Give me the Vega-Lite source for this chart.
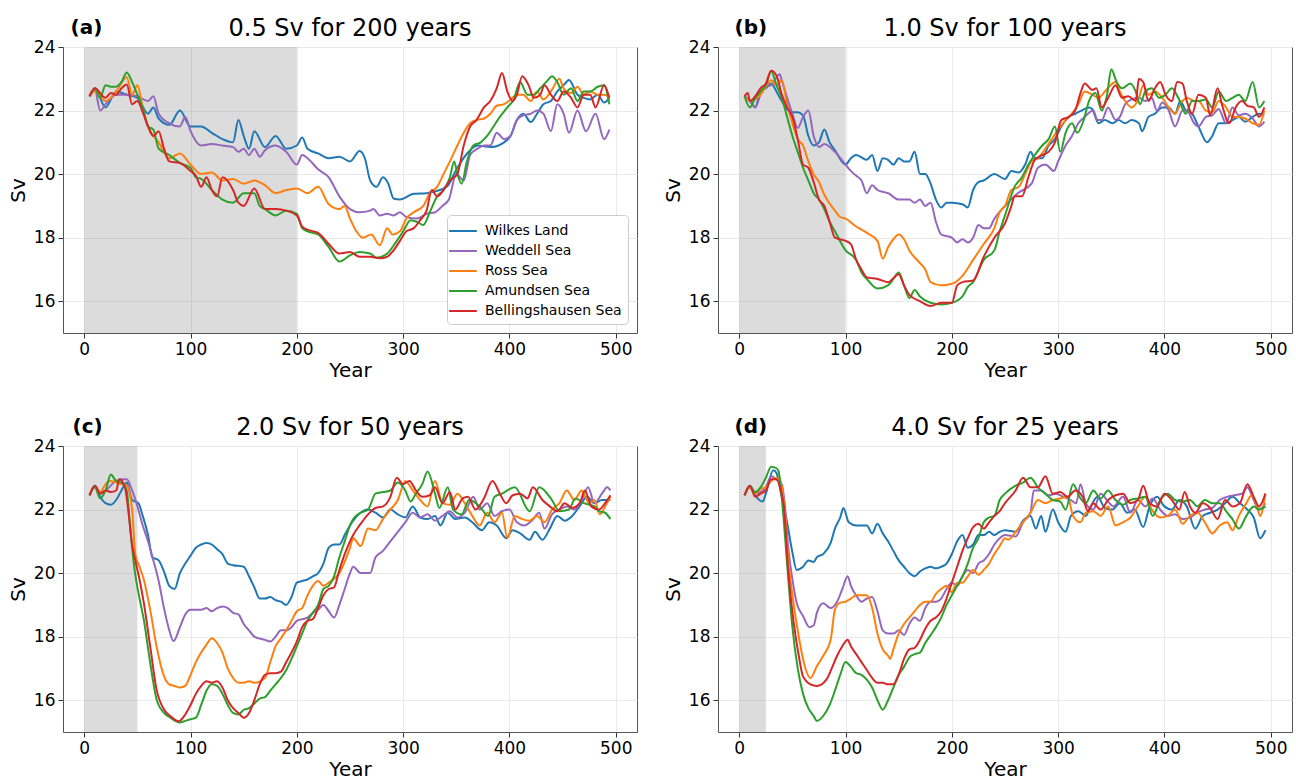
{"$schema":"https://vega.github.io/schema/vega-lite/v6.json","padding":{"left":7,"top":16,"right":2,"bottom":2},"background":"white",
"config":{"font":"DejaVu Sans","view":{"stroke":"#555","strokeWidth":1},
"axis":{"labelFont":"DejaVu Sans","titleFont":"DejaVu Sans","labelFontSize":17,"titleFontSize":20,"titleFontWeight":"normal","labelColor":"#000","titleColor":"#000","tickColor":"#333","tickSize":5,"labelPadding":3,"domain":false,"gridColor":"#e9e9e9","gridWidth":1},
"title":{"font":"DejaVu Sans","fontSize":24,"fontWeight":"normal","color":"#000","frame":"group","anchor":"middle","baseline":"alphabetic"},
"line":{"strokeWidth":2,"interpolate":"monotone"}},
"datasets":{
"a":[
{"s":"W","x":5,"y":22.45},{"s":"W","x":10,"y":22.7},{"s":"W","x":20,"y":22.1},{"s":"W","x":30,"y":22.6},{"s":"W","x":40,"y":22.5},{"s":"W","x":50,"y":22.4},{"s":"W","x":60,"y":21.9},{"s":"W","x":65,"y":22.1},{"s":"W","x":70,"y":21.75},{"s":"W","x":80,"y":21.55},{"s":"W","x":90,"y":22.0},{"s":"W","x":100,"y":21.5},{"s":"W","x":110,"y":21.5},{"s":"W","x":120,"y":21.3},{"s":"W","x":130,"y":21.1},{"s":"W","x":140,"y":21.0},{"s":"W","x":145,"y":21.7},{"s":"W","x":150,"y":21.2},{"s":"W","x":155,"y":20.8},{"s":"W","x":160,"y":21.35},{"s":"W","x":170,"y":20.85},{"s":"W","x":180,"y":21.2},{"s":"W","x":190,"y":20.8},{"s":"W","x":200,"y":20.9},{"s":"W","x":205,"y":21.15},{"s":"W","x":210,"y":20.8},{"s":"W","x":220,"y":20.65},{"s":"W","x":230,"y":20.5},{"s":"W","x":240,"y":20.55},{"s":"W","x":250,"y":20.4},{"s":"W","x":259,"y":20.73},{"s":"W","x":264,"y":20.5},{"s":"W","x":269,"y":19.8},{"s":"W","x":275,"y":19.6},{"s":"W","x":281,"y":19.9},{"s":"W","x":286,"y":19.7},{"s":"W","x":291,"y":19.23},{"s":"W","x":297,"y":19.2},{"s":"W","x":310,"y":19.38},{"s":"W","x":322,"y":19.4},{"s":"W","x":329,"y":19.45},{"s":"W","x":341,"y":19.6},{"s":"W","x":351,"y":20.2},{"s":"W","x":360,"y":20.64},{"s":"W","x":370,"y":20.9},{"s":"W","x":382,"y":20.85},{"s":"W","x":395,"y":21.0},{"s":"W","x":401,"y":21.2},{"s":"W","x":407,"y":21.7},{"s":"W","x":413,"y":21.9},{"s":"W","x":420,"y":21.64},{"s":"W","x":426,"y":21.9},{"s":"W","x":432,"y":22.2},{"s":"W","x":439,"y":22.3},{"s":"W","x":445,"y":22.6},{"s":"W","x":451,"y":22.8},{"s":"W","x":456,"y":22.96},{"s":"W","x":464,"y":22.5},{"s":"W","x":470,"y":22.4},{"s":"W","x":476,"y":22.35},{"s":"W","x":483,"y":22.5},{"s":"W","x":489,"y":22.25},{"s":"W","x":494,"y":22.4},
{"s":"D","x":5,"y":22.45},{"s":"D","x":10,"y":22.65},{"s":"D","x":15,"y":22.0},{"s":"D","x":20,"y":22.2},{"s":"D","x":30,"y":22.5},{"s":"D","x":40,"y":22.5},{"s":"D","x":50,"y":22.45},{"s":"D","x":60,"y":22.3},{"s":"D","x":65,"y":22.45},{"s":"D","x":70,"y":21.9},{"s":"D","x":80,"y":21.6},{"s":"D","x":90,"y":21.5},{"s":"D","x":95,"y":21.8},{"s":"D","x":100,"y":21.35},{"s":"D","x":110,"y":20.9},{"s":"D","x":120,"y":20.95},{"s":"D","x":130,"y":20.9},{"s":"D","x":140,"y":20.85},{"s":"D","x":145,"y":20.7},{"s":"D","x":150,"y":20.8},{"s":"D","x":155,"y":20.6},{"s":"D","x":160,"y":20.8},{"s":"D","x":165,"y":20.55},{"s":"D","x":170,"y":20.75},{"s":"D","x":180,"y":20.9},{"s":"D","x":190,"y":20.7},{"s":"D","x":200,"y":20.3},{"s":"D","x":205,"y":20.6},{"s":"D","x":210,"y":20.5},{"s":"D","x":220,"y":20.15},{"s":"D","x":230,"y":19.9},{"s":"D","x":240,"y":19.3},{"s":"D","x":250,"y":18.9},{"s":"D","x":259,"y":18.8},{"s":"D","x":269,"y":18.85},{"s":"D","x":272,"y":18.9},{"s":"D","x":278,"y":18.7},{"s":"D","x":285,"y":18.75},{"s":"D","x":291,"y":18.7},{"s":"D","x":297,"y":18.8},{"s":"D","x":303,"y":18.65},{"s":"D","x":313,"y":18.6},{"s":"D","x":322,"y":18.75},{"s":"D","x":330,"y":18.8},{"s":"D","x":337,"y":19.0},{"s":"D","x":343,"y":19.2},{"s":"D","x":350,"y":20.0},{"s":"D","x":357,"y":19.8},{"s":"D","x":363,"y":20.6},{"s":"D","x":370,"y":20.8},{"s":"D","x":376,"y":20.9},{"s":"D","x":382,"y":20.9},{"s":"D","x":388,"y":21.3},{"s":"D","x":395,"y":21.1},{"s":"D","x":401,"y":21.2},{"s":"D","x":407,"y":21.7},{"s":"D","x":413,"y":21.85},{"s":"D","x":420,"y":21.9},{"s":"D","x":426,"y":22.0},{"s":"D","x":432,"y":21.9},{"s":"D","x":439,"y":21.35},{"s":"D","x":445,"y":22.2},{"s":"D","x":451,"y":21.9},{"s":"D","x":456,"y":21.3},{"s":"D","x":464,"y":22.0},{"s":"D","x":472,"y":21.35},{"s":"D","x":481,"y":21.9},{"s":"D","x":489,"y":21.1},{"s":"D","x":494,"y":21.4},
{"s":"R","x":5,"y":22.45},{"s":"R","x":10,"y":22.6},{"s":"R","x":20,"y":22.3},{"s":"R","x":30,"y":22.6},{"s":"R","x":40,"y":23.05},{"s":"R","x":45,"y":22.5},{"s":"R","x":50,"y":22.8},{"s":"R","x":55,"y":22.1},{"s":"R","x":60,"y":21.5},{"s":"R","x":70,"y":21.0},{"s":"R","x":80,"y":20.5},{"s":"R","x":90,"y":20.65},{"s":"R","x":100,"y":20.3},{"s":"R","x":110,"y":20.0},{"s":"R","x":120,"y":20.05},{"s":"R","x":130,"y":19.8},{"s":"R","x":140,"y":19.85},{"s":"R","x":150,"y":19.7},{"s":"R","x":160,"y":19.8},{"s":"R","x":170,"y":19.65},{"s":"R","x":180,"y":19.4},{"s":"R","x":190,"y":19.5},{"s":"R","x":200,"y":19.55},{"s":"R","x":210,"y":19.4},{"s":"R","x":220,"y":19.6},{"s":"R","x":230,"y":19.05},{"s":"R","x":240,"y":18.9},{"s":"R","x":245,"y":19.0},{"s":"R","x":250,"y":18.6},{"s":"R","x":256,"y":18.2},{"s":"R","x":262,"y":18.0},{"s":"R","x":270,"y":18.1},{"s":"R","x":278,"y":17.76},{"s":"R","x":285,"y":18.3},{"s":"R","x":290,"y":18.1},{"s":"R","x":297,"y":18.2},{"s":"R","x":303,"y":18.6},{"s":"R","x":310,"y":18.8},{"s":"R","x":319,"y":19.0},{"s":"R","x":325,"y":19.4},{"s":"R","x":332,"y":19.6},{"s":"R","x":338,"y":20.0},{"s":"R","x":344,"y":20.4},{"s":"R","x":351,"y":20.9},{"s":"R","x":357,"y":21.3},{"s":"R","x":363,"y":21.6},{"s":"R","x":369,"y":21.7},{"s":"R","x":376,"y":21.75},{"s":"R","x":382,"y":21.9},{"s":"R","x":388,"y":22.15},{"s":"R","x":395,"y":22.2},{"s":"R","x":401,"y":22.35},{"s":"R","x":407,"y":22.5},{"s":"R","x":413,"y":22.5},{"s":"R","x":420,"y":22.3},{"s":"R","x":426,"y":22.6},{"s":"R","x":432,"y":22.35},{"s":"R","x":439,"y":22.6},{"s":"R","x":447,"y":23.0},{"s":"R","x":451,"y":22.7},{"s":"R","x":458,"y":22.55},{"s":"R","x":464,"y":22.75},{"s":"R","x":470,"y":22.5},{"s":"R","x":476,"y":22.6},{"s":"R","x":483,"y":22.5},{"s":"R","x":489,"y":22.5},{"s":"R","x":494,"y":22.45},
{"s":"A","x":5,"y":22.45},{"s":"A","x":10,"y":22.7},{"s":"A","x":15,"y":22.4},{"s":"A","x":20,"y":22.8},{"s":"A","x":25,"y":22.75},{"s":"A","x":30,"y":22.75},{"s":"A","x":35,"y":22.9},{"s":"A","x":40,"y":23.2},{"s":"A","x":45,"y":22.9},{"s":"A","x":50,"y":22.5},{"s":"A","x":55,"y":22.1},{"s":"A","x":60,"y":21.5},{"s":"A","x":65,"y":21.4},{"s":"A","x":70,"y":20.8},{"s":"A","x":80,"y":20.6},{"s":"A","x":90,"y":20.35},{"s":"A","x":100,"y":20.2},{"s":"A","x":105,"y":19.9},{"s":"A","x":110,"y":19.85},{"s":"A","x":120,"y":19.5},{"s":"A","x":130,"y":19.2},{"s":"A","x":140,"y":19.1},{"s":"A","x":150,"y":19.4},{"s":"A","x":160,"y":19.4},{"s":"A","x":165,"y":19.0},{"s":"A","x":170,"y":18.9},{"s":"A","x":180,"y":18.7},{"s":"A","x":190,"y":18.85},{"s":"A","x":200,"y":18.75},{"s":"A","x":205,"y":18.3},{"s":"A","x":210,"y":18.2},{"s":"A","x":220,"y":18.1},{"s":"A","x":230,"y":17.7},{"s":"A","x":240,"y":17.25},{"s":"A","x":250,"y":17.44},{"s":"A","x":259,"y":17.55},{"s":"A","x":269,"y":17.5},{"s":"A","x":275,"y":17.37},{"s":"A","x":285,"y":17.5},{"s":"A","x":294,"y":17.9},{"s":"A","x":300,"y":18.2},{"s":"A","x":307,"y":18.55},{"s":"A","x":313,"y":18.5},{"s":"A","x":319,"y":18.4},{"s":"A","x":325,"y":18.8},{"s":"A","x":332,"y":19.3},{"s":"A","x":338,"y":19.5},{"s":"A","x":344,"y":19.9},{"s":"A","x":348,"y":20.4},{"s":"A","x":351,"y":20.0},{"s":"A","x":355,"y":19.7},{"s":"A","x":360,"y":20.4},{"s":"A","x":366,"y":20.9},{"s":"A","x":373,"y":21.0},{"s":"A","x":379,"y":21.2},{"s":"A","x":385,"y":21.5},{"s":"A","x":391,"y":21.8},{"s":"A","x":398,"y":22.1},{"s":"A","x":404,"y":22.35},{"s":"A","x":410,"y":22.9},{"s":"A","x":417,"y":22.5},{"s":"A","x":423,"y":22.5},{"s":"A","x":429,"y":22.7},{"s":"A","x":436,"y":22.95},{"s":"A","x":440,"y":23.08},{"s":"A","x":445,"y":22.9},{"s":"A","x":451,"y":22.5},{"s":"A","x":458,"y":22.7},{"s":"A","x":464,"y":22.3},{"s":"A","x":470,"y":22.6},{"s":"A","x":476,"y":22.6},{"s":"A","x":483,"y":22.75},{"s":"A","x":489,"y":22.8},{"s":"A","x":494,"y":22.2},
{"s":"B","x":5,"y":22.45},{"s":"B","x":10,"y":22.7},{"s":"B","x":20,"y":22.4},{"s":"B","x":25,"y":22.55},{"s":"B","x":30,"y":22.5},{"s":"B","x":35,"y":22.7},{"s":"B","x":40,"y":22.82},{"s":"B","x":45,"y":22.2},{"s":"B","x":50,"y":22.3},{"s":"B","x":55,"y":21.95},{"s":"B","x":60,"y":21.5},{"s":"B","x":65,"y":21.2},{"s":"B","x":70,"y":21.35},{"s":"B","x":75,"y":20.8},{"s":"B","x":80,"y":20.4},{"s":"B","x":90,"y":20.35},{"s":"B","x":100,"y":20.1},{"s":"B","x":105,"y":19.95},{"s":"B","x":110,"y":19.6},{"s":"B","x":115,"y":19.9},{"s":"B","x":120,"y":19.5},{"s":"B","x":125,"y":19.3},{"s":"B","x":130,"y":19.9},{"s":"B","x":140,"y":19.5},{"s":"B","x":145,"y":19.1},{"s":"B","x":150,"y":19.0},{"s":"B","x":160,"y":19.55},{"s":"B","x":170,"y":18.9},{"s":"B","x":180,"y":18.9},{"s":"B","x":190,"y":18.85},{"s":"B","x":200,"y":18.7},{"s":"B","x":205,"y":18.35},{"s":"B","x":210,"y":18.25},{"s":"B","x":220,"y":18.15},{"s":"B","x":230,"y":17.8},{"s":"B","x":240,"y":17.5},{"s":"B","x":250,"y":17.55},{"s":"B","x":259,"y":17.4},{"s":"B","x":269,"y":17.4},{"s":"B","x":278,"y":17.35},{"s":"B","x":285,"y":17.4},{"s":"B","x":291,"y":17.6},{"s":"B","x":297,"y":17.9},{"s":"B","x":303,"y":18.2},{"s":"B","x":310,"y":18.3},{"s":"B","x":316,"y":18.55},{"s":"B","x":322,"y":18.85},{"s":"B","x":327,"y":19.5},{"s":"B","x":332,"y":19.3},{"s":"B","x":338,"y":19.5},{"s":"B","x":344,"y":19.8},{"s":"B","x":351,"y":20.0},{"s":"B","x":357,"y":20.9},{"s":"B","x":363,"y":21.5},{"s":"B","x":369,"y":21.7},{"s":"B","x":376,"y":22.1},{"s":"B","x":382,"y":22.3},{"s":"B","x":388,"y":22.7},{"s":"B","x":393,"y":23.18},{"s":"B","x":398,"y":22.6},{"s":"B","x":403,"y":22.3},{"s":"B","x":407,"y":22.5},{"s":"B","x":412,"y":23.08},{"s":"B","x":418,"y":22.8},{"s":"B","x":423,"y":22.4},{"s":"B","x":429,"y":22.5},{"s":"B","x":433,"y":22.8},{"s":"B","x":439,"y":22.5},{"s":"B","x":445,"y":22.3},{"s":"B","x":451,"y":22.6},{"s":"B","x":458,"y":22.4},{"s":"B","x":464,"y":22.1},{"s":"B","x":470,"y":22.5},{"s":"B","x":476,"y":22.5},{"s":"B","x":481,"y":22.1},{"s":"B","x":489,"y":22.8},{"s":"B","x":494,"y":22.4}],
"b":[
{"s":"W","x":5,"y":22.45},{"s":"W","x":10,"y":22.3},{"s":"W","x":15,"y":22.1},{"s":"W","x":20,"y":22.6},{"s":"W","x":25,"y":22.7},{"s":"W","x":30,"y":22.85},{"s":"W","x":35,"y":22.6},{"s":"W","x":40,"y":22.3},{"s":"W","x":45,"y":22.05},{"s":"W","x":50,"y":21.95},{"s":"W","x":55,"y":21.95},{"s":"W","x":60,"y":21.85},{"s":"W","x":65,"y":21.2},{"s":"W","x":70,"y":20.9},{"s":"W","x":75,"y":21.0},{"s":"W","x":80,"y":21.4},{"s":"W","x":85,"y":21.0},{"s":"W","x":90,"y":20.75},{"s":"W","x":100,"y":20.3},{"s":"W","x":105,"y":20.5},{"s":"W","x":110,"y":20.6},{"s":"W","x":120,"y":20.45},{"s":"W","x":125,"y":20.6},{"s":"W","x":130,"y":20.1},{"s":"W","x":135,"y":20.5},{"s":"W","x":140,"y":20.45},{"s":"W","x":145,"y":20.3},{"s":"W","x":150,"y":20.5},{"s":"W","x":155,"y":20.4},{"s":"W","x":160,"y":20.4},{"s":"W","x":165,"y":20.7},{"s":"W","x":170,"y":20.0},{"s":"W","x":175,"y":20.0},{"s":"W","x":180,"y":19.7},{"s":"W","x":185,"y":19.2},{"s":"W","x":190,"y":18.95},{"s":"W","x":195,"y":19.1},{"s":"W","x":200,"y":19.1},{"s":"W","x":210,"y":19.05},{"s":"W","x":215,"y":18.95},{"s":"W","x":220,"y":19.5},{"s":"W","x":225,"y":19.75},{"s":"W","x":230,"y":19.8},{"s":"W","x":240,"y":20.0},{"s":"W","x":250,"y":19.85},{"s":"W","x":256,"y":20.1},{"s":"W","x":263,"y":20.05},{"s":"W","x":269,"y":20.3},{"s":"W","x":274,"y":20.7},{"s":"W","x":278,"y":20.5},{"s":"W","x":285,"y":20.5},{"s":"W","x":291,"y":20.9},{"s":"W","x":297,"y":21.1},{"s":"W","x":303,"y":21.5},{"s":"W","x":310,"y":21.8},{"s":"W","x":316,"y":21.9},{"s":"W","x":322,"y":22.0},{"s":"W","x":329,"y":22.1},{"s":"W","x":332,"y":22.05},{"s":"W","x":338,"y":21.6},{"s":"W","x":344,"y":21.7},{"s":"W","x":351,"y":21.6},{"s":"W","x":357,"y":21.7},{"s":"W","x":363,"y":21.6},{"s":"W","x":369,"y":21.7},{"s":"W","x":376,"y":21.6},{"s":"W","x":379,"y":21.35},{"s":"W","x":385,"y":21.8},{"s":"W","x":391,"y":21.9},{"s":"W","x":398,"y":22.1},{"s":"W","x":404,"y":22.1},{"s":"W","x":410,"y":21.9},{"s":"W","x":415,"y":22.3},{"s":"W","x":420,"y":22.0},{"s":"W","x":426,"y":21.9},{"s":"W","x":432,"y":21.5},{"s":"W","x":440,"y":21.0},{"s":"W","x":445,"y":21.2},{"s":"W","x":451,"y":21.6},{"s":"W","x":458,"y":21.6},{"s":"W","x":464,"y":21.7},{"s":"W","x":470,"y":21.8},{"s":"W","x":476,"y":21.65},{"s":"W","x":483,"y":21.8},{"s":"W","x":489,"y":21.9},{"s":"W","x":494,"y":21.85},
{"s":"D","x":5,"y":22.45},{"s":"D","x":10,"y":22.3},{"s":"D","x":15,"y":22.1},{"s":"D","x":20,"y":22.5},{"s":"D","x":25,"y":22.75},{"s":"D","x":30,"y":22.8},{"s":"D","x":38,"y":23.14},{"s":"D","x":40,"y":22.95},{"s":"D","x":45,"y":22.4},{"s":"D","x":50,"y":21.9},{"s":"D","x":55,"y":21.45},{"s":"D","x":60,"y":21.8},{"s":"D","x":65,"y":22.0},{"s":"D","x":70,"y":21.2},{"s":"D","x":75,"y":20.85},{"s":"D","x":80,"y":20.95},{"s":"D","x":90,"y":20.7},{"s":"D","x":100,"y":20.3},{"s":"D","x":105,"y":20.1},{"s":"D","x":110,"y":19.95},{"s":"D","x":115,"y":19.8},{"s":"D","x":120,"y":19.4},{"s":"D","x":125,"y":19.65},{"s":"D","x":130,"y":19.5},{"s":"D","x":140,"y":19.4},{"s":"D","x":150,"y":19.2},{"s":"D","x":160,"y":19.2},{"s":"D","x":165,"y":19.1},{"s":"D","x":170,"y":19.2},{"s":"D","x":175,"y":19.0},{"s":"D","x":180,"y":19.1},{"s":"D","x":185,"y":18.5},{"s":"D","x":190,"y":18.1},{"s":"D","x":195,"y":18.05},{"s":"D","x":200,"y":18.0},{"s":"D","x":205,"y":17.85},{"s":"D","x":210,"y":17.95},{"s":"D","x":215,"y":17.85},{"s":"D","x":220,"y":18.0},{"s":"D","x":225,"y":18.4},{"s":"D","x":230,"y":18.3},{"s":"D","x":235,"y":18.3},{"s":"D","x":240,"y":18.6},{"s":"D","x":250,"y":19.0},{"s":"D","x":262,"y":19.4},{"s":"D","x":275,"y":19.7},{"s":"D","x":281,"y":20.2},{"s":"D","x":288,"y":20.3},{"s":"D","x":296,"y":20.1},{"s":"D","x":300,"y":20.4},{"s":"D","x":307,"y":20.9},{"s":"D","x":313,"y":21.2},{"s":"D","x":319,"y":21.6},{"s":"D","x":325,"y":21.8},{"s":"D","x":333,"y":22.0},{"s":"D","x":337,"y":21.7},{"s":"D","x":341,"y":21.7},{"s":"D","x":347,"y":22.1},{"s":"D","x":354,"y":21.7},{"s":"D","x":358,"y":21.8},{"s":"D","x":363,"y":22.2},{"s":"D","x":369,"y":22.35},{"s":"D","x":376,"y":22.4},{"s":"D","x":382,"y":22.3},{"s":"D","x":388,"y":22.4},{"s":"D","x":393,"y":22.0},{"s":"D","x":398,"y":22.25},{"s":"D","x":404,"y":22.0},{"s":"D","x":410,"y":21.5},{"s":"D","x":417,"y":22.0},{"s":"D","x":421,"y":22.0},{"s":"D","x":428,"y":21.6},{"s":"D","x":432,"y":21.5},{"s":"D","x":439,"y":21.8},{"s":"D","x":445,"y":21.85},{"s":"D","x":451,"y":22.05},{"s":"D","x":458,"y":21.6},{"s":"D","x":464,"y":22.1},{"s":"D","x":470,"y":21.85},{"s":"D","x":476,"y":21.9},{"s":"D","x":483,"y":21.75},{"s":"D","x":489,"y":21.5},{"s":"D","x":494,"y":21.65},
{"s":"R","x":5,"y":22.45},{"s":"R","x":10,"y":22.3},{"s":"R","x":20,"y":22.5},{"s":"R","x":25,"y":22.75},{"s":"R","x":30,"y":22.95},{"s":"R","x":35,"y":22.8},{"s":"R","x":40,"y":22.95},{"s":"R","x":45,"y":22.2},{"s":"R","x":50,"y":21.6},{"s":"R","x":55,"y":21.1},{"s":"R","x":60,"y":20.9},{"s":"R","x":65,"y":20.4},{"s":"R","x":70,"y":20.0},{"s":"R","x":75,"y":19.75},{"s":"R","x":80,"y":19.35},{"s":"R","x":90,"y":18.85},{"s":"R","x":95,"y":18.65},{"s":"R","x":100,"y":18.6},{"s":"R","x":110,"y":18.35},{"s":"R","x":120,"y":18.15},{"s":"R","x":130,"y":17.9},{"s":"R","x":135,"y":17.34},{"s":"R","x":140,"y":17.7},{"s":"R","x":145,"y":17.95},{"s":"R","x":150,"y":18.1},{"s":"R","x":155,"y":17.95},{"s":"R","x":160,"y":17.6},{"s":"R","x":170,"y":17.2},{"s":"R","x":175,"y":17.0},{"s":"R","x":180,"y":16.6},{"s":"R","x":190,"y":16.5},{"s":"R","x":200,"y":16.55},{"s":"R","x":210,"y":16.8},{"s":"R","x":220,"y":17.3},{"s":"R","x":230,"y":17.8},{"s":"R","x":240,"y":18.3},{"s":"R","x":245,"y":18.8},{"s":"R","x":250,"y":19.0},{"s":"R","x":256,"y":19.5},{"s":"R","x":263,"y":19.6},{"s":"R","x":269,"y":20.0},{"s":"R","x":275,"y":20.4},{"s":"R","x":281,"y":20.5},{"s":"R","x":288,"y":20.8},{"s":"R","x":294,"y":21.1},{"s":"R","x":300,"y":21.4},{"s":"R","x":307,"y":21.7},{"s":"R","x":313,"y":21.9},{"s":"R","x":319,"y":22.2},{"s":"R","x":325,"y":22.6},{"s":"R","x":332,"y":22.5},{"s":"R","x":338,"y":22.4},{"s":"R","x":344,"y":22.6},{"s":"R","x":351,"y":22.85},{"s":"R","x":354,"y":22.9},{"s":"R","x":358,"y":22.6},{"s":"R","x":363,"y":22.3},{"s":"R","x":369,"y":22.1},{"s":"R","x":376,"y":22.4},{"s":"R","x":380,"y":22.8},{"s":"R","x":385,"y":22.5},{"s":"R","x":391,"y":22.6},{"s":"R","x":398,"y":22.4},{"s":"R","x":404,"y":22.1},{"s":"R","x":410,"y":21.9},{"s":"R","x":415,"y":22.2},{"s":"R","x":421,"y":22.4},{"s":"R","x":428,"y":22.3},{"s":"R","x":432,"y":22.3},{"s":"R","x":439,"y":22.0},{"s":"R","x":445,"y":21.95},{"s":"R","x":451,"y":22.3},{"s":"R","x":458,"y":22.1},{"s":"R","x":464,"y":21.8},{"s":"R","x":470,"y":21.8},{"s":"R","x":476,"y":21.75},{"s":"R","x":483,"y":21.6},{"s":"R","x":489,"y":21.55},{"s":"R","x":494,"y":22.0},
{"s":"A","x":5,"y":22.45},{"s":"A","x":10,"y":22.1},{"s":"A","x":15,"y":22.4},{"s":"A","x":20,"y":22.6},{"s":"A","x":25,"y":22.8},{"s":"A","x":30,"y":23.24},{"s":"A","x":35,"y":22.8},{"s":"A","x":40,"y":22.4},{"s":"A","x":45,"y":21.8},{"s":"A","x":50,"y":21.2},{"s":"A","x":55,"y":20.7},{"s":"A","x":60,"y":20.2},{"s":"A","x":65,"y":19.8},{"s":"A","x":70,"y":19.4},{"s":"A","x":75,"y":19.2},{"s":"A","x":80,"y":18.9},{"s":"A","x":85,"y":18.5},{"s":"A","x":90,"y":18.2},{"s":"A","x":100,"y":17.6},{"s":"A","x":110,"y":17.3},{"s":"A","x":115,"y":16.9},{"s":"A","x":120,"y":16.7},{"s":"A","x":130,"y":16.4},{"s":"A","x":140,"y":16.5},{"s":"A","x":145,"y":16.7},{"s":"A","x":150,"y":16.9},{"s":"A","x":155,"y":16.5},{"s":"A","x":160,"y":16.1},{"s":"A","x":165,"y":16.35},{"s":"A","x":170,"y":16.15},{"s":"A","x":180,"y":15.95},{"s":"A","x":190,"y":15.9},{"s":"A","x":200,"y":15.95},{"s":"A","x":210,"y":16.15},{"s":"A","x":215,"y":16.45},{"s":"A","x":220,"y":16.6},{"s":"A","x":230,"y":17.3},{"s":"A","x":240,"y":17.6},{"s":"A","x":245,"y":18.2},{"s":"A","x":250,"y":18.7},{"s":"A","x":259,"y":19.6},{"s":"A","x":266,"y":19.9},{"s":"A","x":272,"y":20.3},{"s":"A","x":278,"y":20.6},{"s":"A","x":285,"y":20.9},{"s":"A","x":291,"y":21.1},{"s":"A","x":297,"y":21.5},{"s":"A","x":302,"y":20.7},{"s":"A","x":307,"y":21.3},{"s":"A","x":313,"y":21.6},{"s":"A","x":318,"y":21.3},{"s":"A","x":324,"y":21.7},{"s":"A","x":329,"y":22.3},{"s":"A","x":335,"y":22.55},{"s":"A","x":341,"y":22.0},{"s":"A","x":346,"y":22.5},{"s":"A","x":350,"y":23.3},{"s":"A","x":355,"y":22.9},{"s":"A","x":360,"y":22.7},{"s":"A","x":368,"y":22.85},{"s":"A","x":373,"y":22.6},{"s":"A","x":377,"y":22.2},{"s":"A","x":382,"y":22.6},{"s":"A","x":388,"y":22.7},{"s":"A","x":395,"y":22.4},{"s":"A","x":401,"y":22.5},{"s":"A","x":407,"y":22.7},{"s":"A","x":413,"y":22.4},{"s":"A","x":420,"y":21.9},{"s":"A","x":426,"y":22.3},{"s":"A","x":432,"y":22.3},{"s":"A","x":439,"y":22.35},{"s":"A","x":445,"y":22.1},{"s":"A","x":451,"y":22.6},{"s":"A","x":458,"y":22.3},{"s":"A","x":464,"y":22.4},{"s":"A","x":470,"y":22.5},{"s":"A","x":476,"y":22.3},{"s":"A","x":483,"y":22.9},{"s":"A","x":489,"y":22.1},{"s":"A","x":494,"y":22.3},
{"s":"B","x":5,"y":22.45},{"s":"B","x":8,"y":22.55},{"s":"B","x":10,"y":22.3},{"s":"B","x":15,"y":22.45},{"s":"B","x":20,"y":22.7},{"s":"B","x":25,"y":22.85},{"s":"B","x":30,"y":23.25},{"s":"B","x":35,"y":23.1},{"s":"B","x":40,"y":22.5},{"s":"B","x":45,"y":22.1},{"s":"B","x":50,"y":21.8},{"s":"B","x":55,"y":21.1},{"s":"B","x":60,"y":20.3},{"s":"B","x":65,"y":20.2},{"s":"B","x":70,"y":19.75},{"s":"B","x":75,"y":19.2},{"s":"B","x":80,"y":19.0},{"s":"B","x":85,"y":18.5},{"s":"B","x":90,"y":18.0},{"s":"B","x":100,"y":17.9},{"s":"B","x":105,"y":17.8},{"s":"B","x":110,"y":17.3},{"s":"B","x":115,"y":17.0},{"s":"B","x":120,"y":16.75},{"s":"B","x":130,"y":16.7},{"s":"B","x":140,"y":16.6},{"s":"B","x":150,"y":16.85},{"s":"B","x":155,"y":16.5},{"s":"B","x":160,"y":16.2},{"s":"B","x":170,"y":16.0},{"s":"B","x":180,"y":15.85},{"s":"B","x":190,"y":15.95},{"s":"B","x":200,"y":15.95},{"s":"B","x":205,"y":16.5},{"s":"B","x":210,"y":16.6},{"s":"B","x":220,"y":16.65},{"s":"B","x":230,"y":17.4},{"s":"B","x":240,"y":18.0},{"s":"B","x":250,"y":18.45},{"s":"B","x":256,"y":19.0},{"s":"B","x":259,"y":19.3},{"s":"B","x":266,"y":19.3},{"s":"B","x":272,"y":19.9},{"s":"B","x":278,"y":20.45},{"s":"B","x":285,"y":20.6},{"s":"B","x":291,"y":20.7},{"s":"B","x":297,"y":21.0},{"s":"B","x":303,"y":21.7},{"s":"B","x":310,"y":21.8},{"s":"B","x":316,"y":22.0},{"s":"B","x":321,"y":22.55},{"s":"B","x":325,"y":22.85},{"s":"B","x":332,"y":22.65},{"s":"B","x":336,"y":22.7},{"s":"B","x":341,"y":22.1},{"s":"B","x":347,"y":22.4},{"s":"B","x":354,"y":22.8},{"s":"B","x":360,"y":22.4},{"s":"B","x":366,"y":22.45},{"s":"B","x":373,"y":22.3},{"s":"B","x":376,"y":23.0},{"s":"B","x":380,"y":22.9},{"s":"B","x":385,"y":22.3},{"s":"B","x":391,"y":22.7},{"s":"B","x":396,"y":22.9},{"s":"B","x":401,"y":22.5},{"s":"B","x":407,"y":22.3},{"s":"B","x":412,"y":22.9},{"s":"B","x":417,"y":22.85},{"s":"B","x":421,"y":22.3},{"s":"B","x":426,"y":21.9},{"s":"B","x":432,"y":22.5},{"s":"B","x":439,"y":22.4},{"s":"B","x":443,"y":21.85},{"s":"B","x":450,"y":22.7},{"s":"B","x":454,"y":22.2},{"s":"B","x":461,"y":21.6},{"s":"B","x":467,"y":22.1},{"s":"B","x":473,"y":22.3},{"s":"B","x":478,"y":22.15},{"s":"B","x":484,"y":22.1},{"s":"B","x":489,"y":21.8},{"s":"B","x":494,"y":22.1}],
"c":[
{"s":"W","x":5,"y":22.45},{"s":"W","x":10,"y":22.75},{"s":"W","x":15,"y":22.4},{"s":"W","x":20,"y":22.2},{"s":"W","x":25,"y":22.15},{"s":"W","x":30,"y":22.3},{"s":"W","x":35,"y":22.6},{"s":"W","x":40,"y":22.85},{"s":"W","x":45,"y":22.3},{"s":"W","x":51,"y":22.2},{"s":"W","x":55,"y":21.8},{"s":"W","x":60,"y":21.2},{"s":"W","x":64,"y":20.5},{"s":"W","x":70,"y":20.4},{"s":"W","x":75,"y":20.05},{"s":"W","x":80,"y":19.6},{"s":"W","x":85,"y":19.5},{"s":"W","x":90,"y":20.0},{"s":"W","x":95,"y":20.3},{"s":"W","x":100,"y":20.55},{"s":"W","x":105,"y":20.8},{"s":"W","x":110,"y":20.9},{"s":"W","x":115,"y":20.95},{"s":"W","x":120,"y":20.9},{"s":"W","x":125,"y":20.75},{"s":"W","x":130,"y":20.6},{"s":"W","x":135,"y":20.3},{"s":"W","x":140,"y":20.25},{"s":"W","x":150,"y":20.2},{"s":"W","x":155,"y":19.9},{"s":"W","x":160,"y":19.55},{"s":"W","x":165,"y":19.2},{"s":"W","x":170,"y":19.2},{"s":"W","x":175,"y":19.25},{"s":"W","x":180,"y":19.15},{"s":"W","x":185,"y":19.1},{"s":"W","x":190,"y":19.0},{"s":"W","x":195,"y":19.25},{"s":"W","x":200,"y":19.7},{"s":"W","x":205,"y":19.75},{"s":"W","x":210,"y":19.8},{"s":"W","x":215,"y":19.9},{"s":"W","x":220,"y":20.0},{"s":"W","x":225,"y":20.3},{"s":"W","x":230,"y":20.8},{"s":"W","x":235,"y":20.9},{"s":"W","x":240,"y":20.9},{"s":"W","x":245,"y":21.2},{"s":"W","x":250,"y":21.5},{"s":"W","x":260,"y":21.9},{"s":"W","x":267,"y":22.0},{"s":"W","x":274,"y":21.9},{"s":"W","x":281,"y":21.75},{"s":"W","x":288,"y":22.0},{"s":"W","x":295,"y":21.85},{"s":"W","x":302,"y":21.75},{"s":"W","x":309,"y":22.1},{"s":"W","x":316,"y":21.75},{"s":"W","x":323,"y":21.7},{"s":"W","x":330,"y":21.8},{"s":"W","x":335,"y":21.5},{"s":"W","x":342,"y":21.9},{"s":"W","x":349,"y":21.7},{"s":"W","x":358,"y":21.75},{"s":"W","x":365,"y":21.6},{"s":"W","x":374,"y":21.35},{"s":"W","x":381,"y":21.6},{"s":"W","x":388,"y":21.5},{"s":"W","x":397,"y":21.1},{"s":"W","x":403,"y":21.35},{"s":"W","x":410,"y":21.25},{"s":"W","x":419,"y":21.05},{"s":"W","x":424,"y":21.3},{"s":"W","x":431,"y":21.05},{"s":"W","x":438,"y":21.4},{"s":"W","x":445,"y":21.8},{"s":"W","x":452,"y":21.65},{"s":"W","x":459,"y":21.8},{"s":"W","x":466,"y":22.1},{"s":"W","x":473,"y":22.4},{"s":"W","x":480,"y":22.2},{"s":"W","x":487,"y":22.3},{"s":"W","x":495,"y":22.3},
{"s":"D","x":5,"y":22.45},{"s":"D","x":10,"y":22.75},{"s":"D","x":15,"y":22.5},{"s":"D","x":20,"y":22.6},{"s":"D","x":30,"y":22.9},{"s":"D","x":35,"y":22.95},{"s":"D","x":40,"y":22.95},{"s":"D","x":45,"y":22.6},{"s":"D","x":50,"y":22.1},{"s":"D","x":55,"y":21.5},{"s":"D","x":60,"y":21.0},{"s":"D","x":65,"y":20.4},{"s":"D","x":70,"y":19.75},{"s":"D","x":75,"y":18.9},{"s":"D","x":80,"y":18.2},{"s":"D","x":84,"y":17.86},{"s":"D","x":90,"y":18.3},{"s":"D","x":95,"y":18.7},{"s":"D","x":100,"y":18.85},{"s":"D","x":105,"y":18.85},{"s":"D","x":110,"y":18.85},{"s":"D","x":115,"y":18.9},{"s":"D","x":120,"y":18.8},{"s":"D","x":125,"y":18.9},{"s":"D","x":130,"y":18.95},{"s":"D","x":135,"y":18.9},{"s":"D","x":140,"y":18.75},{"s":"D","x":145,"y":18.7},{"s":"D","x":150,"y":18.4},{"s":"D","x":155,"y":18.2},{"s":"D","x":160,"y":18.0},{"s":"D","x":170,"y":17.9},{"s":"D","x":175,"y":17.85},{"s":"D","x":180,"y":18.0},{"s":"D","x":185,"y":18.2},{"s":"D","x":190,"y":18.2},{"s":"D","x":195,"y":18.3},{"s":"D","x":200,"y":18.5},{"s":"D","x":210,"y":18.6},{"s":"D","x":215,"y":18.75},{"s":"D","x":220,"y":18.85},{"s":"D","x":225,"y":19.0},{"s":"D","x":230,"y":18.8},{"s":"D","x":235,"y":18.6},{"s":"D","x":240,"y":19.0},{"s":"D","x":245,"y":19.5},{"s":"D","x":250,"y":20.0},{"s":"D","x":253,"y":20.2},{"s":"D","x":260,"y":20.0},{"s":"D","x":269,"y":20.0},{"s":"D","x":274,"y":20.5},{"s":"D","x":281,"y":20.7},{"s":"D","x":288,"y":21.0},{"s":"D","x":295,"y":21.3},{"s":"D","x":302,"y":21.6},{"s":"D","x":309,"y":21.9},{"s":"D","x":316,"y":21.75},{"s":"D","x":323,"y":21.85},{"s":"D","x":330,"y":21.65},{"s":"D","x":337,"y":21.8},{"s":"D","x":344,"y":21.95},{"s":"D","x":351,"y":21.75},{"s":"D","x":358,"y":21.9},{"s":"D","x":366,"y":22.4},{"s":"D","x":372,"y":22.0},{"s":"D","x":379,"y":22.2},{"s":"D","x":386,"y":21.8},{"s":"D","x":393,"y":21.95},{"s":"D","x":400,"y":22.0},{"s":"D","x":407,"y":21.6},{"s":"D","x":414,"y":21.5},{"s":"D","x":421,"y":21.65},{"s":"D","x":428,"y":21.9},{"s":"D","x":433,"y":21.4},{"s":"D","x":440,"y":21.85},{"s":"D","x":447,"y":22.0},{"s":"D","x":454,"y":22.1},{"s":"D","x":461,"y":22.0},{"s":"D","x":468,"y":22.3},{"s":"D","x":474,"y":22.7},{"s":"D","x":480,"y":22.2},{"s":"D","x":487,"y":22.5},{"s":"D","x":492,"y":22.7},{"s":"D","x":495,"y":22.6},
{"s":"R","x":5,"y":22.45},{"s":"R","x":10,"y":22.7},{"s":"R","x":15,"y":22.55},{"s":"R","x":20,"y":22.8},{"s":"R","x":25,"y":22.9},{"s":"R","x":30,"y":22.85},{"s":"R","x":35,"y":22.8},{"s":"R","x":40,"y":22.75},{"s":"R","x":45,"y":22.0},{"s":"R","x":48,"y":20.6},{"s":"R","x":52,"y":20.2},{"s":"R","x":56,"y":19.8},{"s":"R","x":62,"y":18.85},{"s":"R","x":68,"y":17.7},{"s":"R","x":75,"y":16.76},{"s":"R","x":80,"y":16.5},{"s":"R","x":85,"y":16.45},{"s":"R","x":90,"y":16.4},{"s":"R","x":95,"y":16.45},{"s":"R","x":100,"y":16.8},{"s":"R","x":105,"y":17.2},{"s":"R","x":110,"y":17.5},{"s":"R","x":115,"y":17.75},{"s":"R","x":120,"y":17.95},{"s":"R","x":125,"y":17.8},{"s":"R","x":130,"y":17.5},{"s":"R","x":135,"y":17.0},{"s":"R","x":140,"y":16.7},{"s":"R","x":145,"y":16.55},{"s":"R","x":150,"y":16.55},{"s":"R","x":155,"y":16.6},{"s":"R","x":160,"y":16.55},{"s":"R","x":170,"y":16.7},{"s":"R","x":175,"y":17.2},{"s":"R","x":180,"y":17.7},{"s":"R","x":185,"y":17.95},{"s":"R","x":190,"y":18.2},{"s":"R","x":195,"y":18.5},{"s":"R","x":200,"y":18.8},{"s":"R","x":205,"y":18.9},{"s":"R","x":210,"y":19.3},{"s":"R","x":215,"y":19.6},{"s":"R","x":220,"y":19.75},{"s":"R","x":225,"y":19.6},{"s":"R","x":230,"y":19.7},{"s":"R","x":240,"y":20.0},{"s":"R","x":250,"y":20.8},{"s":"R","x":253,"y":21.1},{"s":"R","x":260,"y":20.85},{"s":"R","x":267,"y":21.4},{"s":"R","x":274,"y":21.35},{"s":"R","x":281,"y":21.7},{"s":"R","x":288,"y":22.0},{"s":"R","x":295,"y":22.3},{"s":"R","x":302,"y":22.9},{"s":"R","x":309,"y":22.6},{"s":"R","x":316,"y":22.3},{"s":"R","x":323,"y":22.1},{"s":"R","x":330,"y":22.9},{"s":"R","x":337,"y":22.2},{"s":"R","x":344,"y":22.15},{"s":"R","x":351,"y":22.5},{"s":"R","x":358,"y":22.2},{"s":"R","x":365,"y":21.8},{"s":"R","x":372,"y":21.5},{"s":"R","x":379,"y":21.9},{"s":"R","x":386,"y":21.6},{"s":"R","x":393,"y":21.9},{"s":"R","x":398,"y":21.1},{"s":"R","x":405,"y":21.8},{"s":"R","x":412,"y":21.7},{"s":"R","x":419,"y":21.65},{"s":"R","x":426,"y":21.8},{"s":"R","x":433,"y":21.6},{"s":"R","x":440,"y":22.0},{"s":"R","x":447,"y":22.2},{"s":"R","x":454,"y":22.6},{"s":"R","x":461,"y":22.3},{"s":"R","x":468,"y":22.6},{"s":"R","x":475,"y":22.2},{"s":"R","x":480,"y":22.3},{"s":"R","x":485,"y":21.85},{"s":"R","x":490,"y":22.1},{"s":"R","x":495,"y":22.4},
{"s":"A","x":5,"y":22.45},{"s":"A","x":10,"y":22.7},{"s":"A","x":15,"y":22.35},{"s":"A","x":20,"y":22.6},{"s":"A","x":25,"y":23.1},{"s":"A","x":30,"y":22.9},{"s":"A","x":35,"y":22.85},{"s":"A","x":40,"y":22.6},{"s":"A","x":43,"y":21.5},{"s":"A","x":47,"y":20.2},{"s":"A","x":52,"y":19.2},{"s":"A","x":56,"y":18.54},{"s":"A","x":62,"y":17.18},{"s":"A","x":68,"y":16.03},{"s":"A","x":75,"y":15.6},{"s":"A","x":81,"y":15.45},{"s":"A","x":90,"y":15.3},{"s":"A","x":95,"y":15.35},{"s":"A","x":100,"y":15.4},{"s":"A","x":105,"y":15.45},{"s":"A","x":110,"y":15.85},{"s":"A","x":115,"y":16.3},{"s":"A","x":120,"y":16.5},{"s":"A","x":125,"y":16.45},{"s":"A","x":130,"y":16.2},{"s":"A","x":135,"y":15.85},{"s":"A","x":140,"y":15.6},{"s":"A","x":145,"y":15.55},{"s":"A","x":150,"y":15.7},{"s":"A","x":155,"y":15.75},{"s":"A","x":160,"y":15.9},{"s":"A","x":165,"y":16.05},{"s":"A","x":170,"y":16.1},{"s":"A","x":175,"y":16.3},{"s":"A","x":180,"y":16.5},{"s":"A","x":185,"y":16.7},{"s":"A","x":190,"y":16.95},{"s":"A","x":195,"y":17.3},{"s":"A","x":200,"y":17.7},{"s":"A","x":205,"y":18.1},{"s":"A","x":210,"y":18.5},{"s":"A","x":215,"y":18.75},{"s":"A","x":220,"y":19.0},{"s":"A","x":225,"y":19.5},{"s":"A","x":230,"y":19.6},{"s":"A","x":235,"y":19.9},{"s":"A","x":240,"y":20.5},{"s":"A","x":245,"y":21.0},{"s":"A","x":250,"y":21.5},{"s":"A","x":253,"y":21.7},{"s":"A","x":260,"y":21.9},{"s":"A","x":267,"y":22.0},{"s":"A","x":274,"y":22.5},{"s":"A","x":281,"y":22.55},{"s":"A","x":288,"y":22.6},{"s":"A","x":295,"y":22.85},{"s":"A","x":302,"y":22.6},{"s":"A","x":307,"y":22.25},{"s":"A","x":312,"y":22.5},{"s":"A","x":318,"y":22.8},{"s":"A","x":323,"y":23.2},{"s":"A","x":330,"y":22.5},{"s":"A","x":334,"y":22.05},{"s":"A","x":342,"y":22.7},{"s":"A","x":347,"y":22.0},{"s":"A","x":355,"y":21.85},{"s":"A","x":362,"y":22.3},{"s":"A","x":372,"y":22.1},{"s":"A","x":380,"y":21.8},{"s":"A","x":386,"y":22.4},{"s":"A","x":393,"y":22.5},{"s":"A","x":405,"y":22.7},{"s":"A","x":419,"y":21.95},{"s":"A","x":428,"y":22.7},{"s":"A","x":440,"y":22.3},{"s":"A","x":447,"y":21.95},{"s":"A","x":456,"y":22.0},{"s":"A","x":462,"y":22.35},{"s":"A","x":470,"y":22.2},{"s":"A","x":480,"y":22.1},{"s":"A","x":484,"y":21.95},{"s":"A","x":490,"y":21.9},{"s":"A","x":495,"y":21.7},
{"s":"B","x":5,"y":22.45},{"s":"B","x":10,"y":22.75},{"s":"B","x":15,"y":22.5},{"s":"B","x":20,"y":22.6},{"s":"B","x":25,"y":22.55},{"s":"B","x":30,"y":22.6},{"s":"B","x":33,"y":22.95},{"s":"B","x":38,"y":22.74},{"s":"B","x":42,"y":21.8},{"s":"B","x":45,"y":20.9},{"s":"B","x":48,"y":20.4},{"s":"B","x":52,"y":19.8},{"s":"B","x":56,"y":19.07},{"s":"B","x":62,"y":17.7},{"s":"B","x":68,"y":16.34},{"s":"B","x":75,"y":15.71},{"s":"B","x":81,"y":15.5},{"s":"B","x":89,"y":15.34},{"s":"B","x":95,"y":15.55},{"s":"B","x":100,"y":15.85},{"s":"B","x":105,"y":16.2},{"s":"B","x":110,"y":16.45},{"s":"B","x":115,"y":16.6},{"s":"B","x":120,"y":16.55},{"s":"B","x":125,"y":16.6},{"s":"B","x":130,"y":16.4},{"s":"B","x":135,"y":16.0},{"s":"B","x":140,"y":15.75},{"s":"B","x":145,"y":15.6},{"s":"B","x":150,"y":15.45},{"s":"B","x":155,"y":15.6},{"s":"B","x":160,"y":16.0},{"s":"B","x":165,"y":16.5},{"s":"B","x":170,"y":16.8},{"s":"B","x":175,"y":16.85},{"s":"B","x":180,"y":16.85},{"s":"B","x":185,"y":16.9},{"s":"B","x":190,"y":17.2},{"s":"B","x":195,"y":17.5},{"s":"B","x":200,"y":17.85},{"s":"B","x":205,"y":18.3},{"s":"B","x":210,"y":18.5},{"s":"B","x":215,"y":18.55},{"s":"B","x":220,"y":18.9},{"s":"B","x":225,"y":19.3},{"s":"B","x":230,"y":19.5},{"s":"B","x":235,"y":19.55},{"s":"B","x":240,"y":20.1},{"s":"B","x":245,"y":20.6},{"s":"B","x":250,"y":21.0},{"s":"B","x":253,"y":21.2},{"s":"B","x":260,"y":21.55},{"s":"B","x":267,"y":21.85},{"s":"B","x":274,"y":22.05},{"s":"B","x":281,"y":22.1},{"s":"B","x":288,"y":22.4},{"s":"B","x":294,"y":23.0},{"s":"B","x":300,"y":22.8},{"s":"B","x":306,"y":22.9},{"s":"B","x":312,"y":22.6},{"s":"B","x":318,"y":22.4},{"s":"B","x":325,"y":22.45},{"s":"B","x":330,"y":22.7},{"s":"B","x":337,"y":22.2},{"s":"B","x":344,"y":22.55},{"s":"B","x":349,"y":22.0},{"s":"B","x":356,"y":22.35},{"s":"B","x":361,"y":22.4},{"s":"B","x":368,"y":22.0},{"s":"B","x":376,"y":22.35},{"s":"B","x":384,"y":22.9},{"s":"B","x":391,"y":22.5},{"s":"B","x":397,"y":22.2},{"s":"B","x":403,"y":22.45},{"s":"B","x":410,"y":22.5},{"s":"B","x":417,"y":22.35},{"s":"B","x":422,"y":22.7},{"s":"B","x":431,"y":22.3},{"s":"B","x":438,"y":22.1},{"s":"B","x":445,"y":21.95},{"s":"B","x":452,"y":22.2},{"s":"B","x":459,"y":22.05},{"s":"B","x":466,"y":22.2},{"s":"B","x":471,"y":22.6},{"s":"B","x":477,"y":22.1},{"s":"B","x":484,"y":22.0},{"s":"B","x":490,"y":22.2},{"s":"B","x":495,"y":22.45}],
"d":[
{"s":"W","x":5,"y":22.45},{"s":"W","x":10,"y":22.75},{"s":"W","x":15,"y":22.45},{"s":"W","x":22,"y":22.25},{"s":"W","x":25,"y":22.5},{"s":"W","x":32,"y":23.24},{"s":"W","x":35,"y":23.15},{"s":"W","x":40,"y":22.4},{"s":"W","x":45,"y":21.6},{"s":"W","x":50,"y":20.65},{"s":"W","x":54,"y":20.1},{"s":"W","x":60,"y":20.2},{"s":"W","x":65,"y":20.4},{"s":"W","x":70,"y":20.35},{"s":"W","x":73,"y":20.5},{"s":"W","x":79,"y":20.6},{"s":"W","x":86,"y":20.95},{"s":"W","x":90,"y":21.4},{"s":"W","x":95,"y":21.75},{"s":"W","x":98,"y":22.05},{"s":"W","x":103,"y":21.6},{"s":"W","x":110,"y":21.5},{"s":"W","x":115,"y":21.5},{"s":"W","x":120,"y":21.5},{"s":"W","x":125,"y":21.25},{"s":"W","x":130,"y":21.55},{"s":"W","x":135,"y":21.25},{"s":"W","x":140,"y":21.0},{"s":"W","x":145,"y":20.7},{"s":"W","x":150,"y":20.4},{"s":"W","x":155,"y":20.2},{"s":"W","x":160,"y":20.0},{"s":"W","x":165,"y":19.9},{"s":"W","x":170,"y":20.05},{"s":"W","x":175,"y":20.15},{"s":"W","x":180,"y":20.2},{"s":"W","x":185,"y":20.15},{"s":"W","x":190,"y":20.2},{"s":"W","x":195,"y":20.3},{"s":"W","x":200,"y":20.6},{"s":"W","x":205,"y":21.0},{"s":"W","x":210,"y":21.2},{"s":"W","x":215,"y":20.8},{"s":"W","x":220,"y":20.9},{"s":"W","x":225,"y":21.2},{"s":"W","x":230,"y":21.2},{"s":"W","x":235,"y":21.3},{"s":"W","x":240,"y":21.2},{"s":"W","x":245,"y":21.3},{"s":"W","x":250,"y":21.35},{"s":"W","x":260,"y":21.3},{"s":"W","x":267,"y":21.65},{"s":"W","x":274,"y":21.8},{"s":"W","x":279,"y":21.4},{"s":"W","x":284,"y":21.8},{"s":"W","x":288,"y":21.3},{"s":"W","x":295,"y":22.0},{"s":"W","x":300,"y":21.6},{"s":"W","x":307,"y":21.3},{"s":"W","x":312,"y":21.8},{"s":"W","x":319,"y":21.95},{"s":"W","x":326,"y":21.8},{"s":"W","x":330,"y":22.05},{"s":"W","x":337,"y":22.4},{"s":"W","x":344,"y":22.05},{"s":"W","x":351,"y":22.0},{"s":"W","x":358,"y":22.2},{"s":"W","x":365,"y":21.9},{"s":"W","x":372,"y":22.0},{"s":"W","x":380,"y":21.45},{"s":"W","x":386,"y":22.1},{"s":"W","x":393,"y":22.4},{"s":"W","x":400,"y":22.1},{"s":"W","x":407,"y":22.0},{"s":"W","x":414,"y":22.3},{"s":"W","x":421,"y":22.1},{"s":"W","x":429,"y":21.4},{"s":"W","x":436,"y":21.8},{"s":"W","x":443,"y":21.9},{"s":"W","x":450,"y":22.0},{"s":"W","x":457,"y":22.2},{"s":"W","x":464,"y":22.4},{"s":"W","x":471,"y":22.2},{"s":"W","x":478,"y":22.0},{"s":"W","x":484,"y":21.75},{"s":"W","x":490,"y":21.1},{"s":"W","x":495,"y":21.35},
{"s":"D","x":5,"y":22.45},{"s":"D","x":10,"y":22.7},{"s":"D","x":15,"y":22.5},{"s":"D","x":20,"y":22.55},{"s":"D","x":25,"y":22.7},{"s":"D","x":30,"y":23.05},{"s":"D","x":35,"y":22.95},{"s":"D","x":40,"y":22.8},{"s":"D","x":43,"y":22.1},{"s":"D","x":46,"y":20.85},{"s":"D","x":50,"y":19.8},{"s":"D","x":54,"y":19.07},{"s":"D","x":60,"y":18.65},{"s":"D","x":66,"y":18.3},{"s":"D","x":70,"y":18.35},{"s":"D","x":73,"y":18.75},{"s":"D","x":79,"y":19.05},{"s":"D","x":86,"y":18.9},{"s":"D","x":92,"y":19.1},{"s":"D","x":97,"y":19.5},{"s":"D","x":102,"y":19.9},{"s":"D","x":105,"y":19.6},{"s":"D","x":110,"y":19.3},{"s":"D","x":115,"y":19.1},{"s":"D","x":120,"y":19.2},{"s":"D","x":125,"y":19.25},{"s":"D","x":130,"y":18.8},{"s":"D","x":135,"y":18.2},{"s":"D","x":140,"y":18.1},{"s":"D","x":145,"y":18.1},{"s":"D","x":150,"y":18.2},{"s":"D","x":155,"y":18.05},{"s":"D","x":160,"y":18.4},{"s":"D","x":165,"y":18.6},{"s":"D","x":170,"y":18.5},{"s":"D","x":175,"y":18.9},{"s":"D","x":180,"y":19.1},{"s":"D","x":185,"y":19.1},{"s":"D","x":190,"y":19.2},{"s":"D","x":195,"y":19.5},{"s":"D","x":200,"y":19.7},{"s":"D","x":205,"y":19.6},{"s":"D","x":210,"y":19.9},{"s":"D","x":215,"y":20.1},{"s":"D","x":220,"y":20.0},{"s":"D","x":225,"y":20.3},{"s":"D","x":230,"y":20.4},{"s":"D","x":235,"y":20.6},{"s":"D","x":240,"y":20.9},{"s":"D","x":245,"y":21.1},{"s":"D","x":250,"y":21.2},{"s":"D","x":260,"y":21.15},{"s":"D","x":267,"y":21.6},{"s":"D","x":274,"y":21.9},{"s":"D","x":277,"y":22.6},{"s":"D","x":284,"y":22.6},{"s":"D","x":291,"y":22.45},{"s":"D","x":298,"y":22.5},{"s":"D","x":305,"y":22.4},{"s":"D","x":312,"y":22.3},{"s":"D","x":317,"y":22.2},{"s":"D","x":321,"y":22.8},{"s":"D","x":326,"y":22.2},{"s":"D","x":333,"y":22.0},{"s":"D","x":340,"y":22.5},{"s":"D","x":347,"y":22.25},{"s":"D","x":352,"y":22.1},{"s":"D","x":361,"y":22.4},{"s":"D","x":368,"y":21.9},{"s":"D","x":375,"y":22.3},{"s":"D","x":382,"y":22.1},{"s":"D","x":389,"y":22.35},{"s":"D","x":396,"y":22.0},{"s":"D","x":403,"y":21.8},{"s":"D","x":410,"y":21.85},{"s":"D","x":417,"y":21.7},{"s":"D","x":424,"y":21.75},{"s":"D","x":431,"y":21.9},{"s":"D","x":438,"y":22.0},{"s":"D","x":445,"y":22.05},{"s":"D","x":452,"y":22.3},{"s":"D","x":459,"y":22.4},{"s":"D","x":466,"y":22.45},{"s":"D","x":473,"y":22.5},{"s":"D","x":478,"y":22.7},{"s":"D","x":484,"y":22.3},{"s":"D","x":489,"y":22.0},{"s":"D","x":495,"y":22.2},
{"s":"R","x":5,"y":22.45},{"s":"R","x":10,"y":22.7},{"s":"R","x":15,"y":22.5},{"s":"R","x":20,"y":22.65},{"s":"R","x":25,"y":22.7},{"s":"R","x":30,"y":22.9},{"s":"R","x":35,"y":23.0},{"s":"R","x":38,"y":22.95},{"s":"R","x":43,"y":21.9},{"s":"R","x":46,"y":20.5},{"s":"R","x":51,"y":19.07},{"s":"R","x":56,"y":18.0},{"s":"R","x":60,"y":17.3},{"s":"R","x":67,"y":16.7},{"s":"R","x":73,"y":17.07},{"s":"R","x":79,"y":17.4},{"s":"R","x":86,"y":17.9},{"s":"R","x":90,"y":18.85},{"s":"R","x":95,"y":19.07},{"s":"R","x":100,"y":19.1},{"s":"R","x":105,"y":19.2},{"s":"R","x":110,"y":19.3},{"s":"R","x":115,"y":19.3},{"s":"R","x":120,"y":19.3},{"s":"R","x":125,"y":18.9},{"s":"R","x":130,"y":18.1},{"s":"R","x":135,"y":17.6},{"s":"R","x":140,"y":17.4},{"s":"R","x":142,"y":17.3},{"s":"R","x":145,"y":17.6},{"s":"R","x":150,"y":18.1},{"s":"R","x":155,"y":18.4},{"s":"R","x":160,"y":18.6},{"s":"R","x":165,"y":18.8},{"s":"R","x":170,"y":19.0},{"s":"R","x":175,"y":19.1},{"s":"R","x":180,"y":19.1},{"s":"R","x":185,"y":19.35},{"s":"R","x":190,"y":19.5},{"s":"R","x":195,"y":19.6},{"s":"R","x":200,"y":19.4},{"s":"R","x":205,"y":19.7},{"s":"R","x":210,"y":19.7},{"s":"R","x":215,"y":19.9},{"s":"R","x":220,"y":20.1},{"s":"R","x":225,"y":19.95},{"s":"R","x":230,"y":20.1},{"s":"R","x":235,"y":20.3},{"s":"R","x":240,"y":20.6},{"s":"R","x":245,"y":20.85},{"s":"R","x":250,"y":21.1},{"s":"R","x":253,"y":21.05},{"s":"R","x":260,"y":21.3},{"s":"R","x":267,"y":21.6},{"s":"R","x":274,"y":21.9},{"s":"R","x":281,"y":22.3},{"s":"R","x":288,"y":22.2},{"s":"R","x":295,"y":22.3},{"s":"R","x":302,"y":22.35},{"s":"R","x":309,"y":22.4},{"s":"R","x":314,"y":21.8},{"s":"R","x":321,"y":21.6},{"s":"R","x":326,"y":21.9},{"s":"R","x":333,"y":21.95},{"s":"R","x":340,"y":21.8},{"s":"R","x":347,"y":22.1},{"s":"R","x":354,"y":21.5},{"s":"R","x":361,"y":21.6},{"s":"R","x":368,"y":21.75},{"s":"R","x":375,"y":22.1},{"s":"R","x":382,"y":22.4},{"s":"R","x":389,"y":21.95},{"s":"R","x":396,"y":21.75},{"s":"R","x":403,"y":21.8},{"s":"R","x":410,"y":22.0},{"s":"R","x":417,"y":21.55},{"s":"R","x":424,"y":21.8},{"s":"R","x":431,"y":21.9},{"s":"R","x":438,"y":21.6},{"s":"R","x":445,"y":21.25},{"s":"R","x":452,"y":21.5},{"s":"R","x":459,"y":21.6},{"s":"R","x":464,"y":21.35},{"s":"R","x":470,"y":21.8},{"s":"R","x":477,"y":22.2},{"s":"R","x":482,"y":22.45},{"s":"R","x":487,"y":22.1},{"s":"R","x":490,"y":21.8},{"s":"R","x":495,"y":22.5},
{"s":"A","x":5,"y":22.45},{"s":"A","x":10,"y":22.75},{"s":"A","x":15,"y":22.55},{"s":"A","x":20,"y":22.7},{"s":"A","x":25,"y":23.0},{"s":"A","x":30,"y":23.35},{"s":"A","x":35,"y":23.3},{"s":"A","x":37,"y":23.2},{"s":"A","x":41,"y":22.0},{"s":"A","x":45,"y":20.3},{"s":"A","x":50,"y":18.3},{"s":"A","x":55,"y":17.0},{"s":"A","x":60,"y":16.2},{"s":"A","x":65,"y":15.75},{"s":"A","x":70,"y":15.5},{"s":"A","x":73,"y":15.35},{"s":"A","x":80,"y":15.55},{"s":"A","x":85,"y":15.85},{"s":"A","x":90,"y":16.3},{"s":"A","x":95,"y":16.8},{"s":"A","x":100,"y":17.2},{"s":"A","x":105,"y":17.05},{"s":"A","x":110,"y":16.85},{"s":"A","x":115,"y":16.8},{"s":"A","x":120,"y":16.65},{"s":"A","x":125,"y":16.4},{"s":"A","x":130,"y":16.0},{"s":"A","x":135,"y":15.7},{"s":"A","x":140,"y":16.0},{"s":"A","x":145,"y":16.4},{"s":"A","x":150,"y":16.8},{"s":"A","x":155,"y":17.05},{"s":"A","x":160,"y":17.35},{"s":"A","x":165,"y":17.45},{"s":"A","x":170,"y":17.5},{"s":"A","x":175,"y":17.8},{"s":"A","x":180,"y":18.05},{"s":"A","x":185,"y":18.3},{"s":"A","x":190,"y":18.6},{"s":"A","x":195,"y":19.0},{"s":"A","x":200,"y":19.3},{"s":"A","x":205,"y":19.6},{"s":"A","x":210,"y":19.9},{"s":"A","x":215,"y":20.3},{"s":"A","x":220,"y":20.8},{"s":"A","x":225,"y":21.1},{"s":"A","x":230,"y":21.6},{"s":"A","x":235,"y":21.75},{"s":"A","x":240,"y":21.8},{"s":"A","x":245,"y":22.3},{"s":"A","x":250,"y":22.5},{"s":"A","x":260,"y":22.75},{"s":"A","x":267,"y":22.85},{"s":"A","x":274,"y":23.0},{"s":"A","x":281,"y":22.7},{"s":"A","x":288,"y":22.5},{"s":"A","x":295,"y":22.3},{"s":"A","x":302,"y":22.25},{"s":"A","x":307,"y":22.0},{"s":"A","x":314,"y":22.8},{"s":"A","x":321,"y":22.35},{"s":"A","x":326,"y":22.2},{"s":"A","x":333,"y":22.6},{"s":"A","x":340,"y":22.35},{"s":"A","x":347,"y":22.6},{"s":"A","x":354,"y":22.3},{"s":"A","x":361,"y":22.15},{"s":"A","x":368,"y":22.3},{"s":"A","x":375,"y":22.35},{"s":"A","x":382,"y":22.4},{"s":"A","x":389,"y":21.8},{"s":"A","x":396,"y":22.3},{"s":"A","x":403,"y":22.5},{"s":"A","x":410,"y":22.3},{"s":"A","x":417,"y":22.25},{"s":"A","x":424,"y":22.3},{"s":"A","x":431,"y":22.1},{"s":"A","x":438,"y":22.3},{"s":"A","x":445,"y":22.2},{"s":"A","x":452,"y":22.2},{"s":"A","x":459,"y":21.9},{"s":"A","x":464,"y":21.7},{"s":"A","x":470,"y":21.4},{"s":"A","x":477,"y":21.8},{"s":"A","x":484,"y":22.1},{"s":"A","x":489,"y":22.0},{"s":"A","x":495,"y":22.1},
{"s":"B","x":5,"y":22.45},{"s":"B","x":10,"y":22.75},{"s":"B","x":15,"y":22.4},{"s":"B","x":20,"y":22.5},{"s":"B","x":25,"y":22.6},{"s":"B","x":30,"y":22.95},{"s":"B","x":35,"y":22.95},{"s":"B","x":39,"y":22.6},{"s":"B","x":42,"y":22.1},{"s":"B","x":46,"y":20.1},{"s":"B","x":51,"y":18.5},{"s":"B","x":56,"y":17.4},{"s":"B","x":60,"y":16.75},{"s":"B","x":67,"y":16.5},{"s":"B","x":73,"y":16.45},{"s":"B","x":82,"y":16.65},{"s":"B","x":87,"y":17.0},{"s":"B","x":92,"y":17.4},{"s":"B","x":97,"y":17.7},{"s":"B","x":102,"y":17.9},{"s":"B","x":105,"y":17.7},{"s":"B","x":110,"y":17.45},{"s":"B","x":115,"y":17.2},{"s":"B","x":120,"y":16.95},{"s":"B","x":125,"y":16.7},{"s":"B","x":130,"y":16.55},{"s":"B","x":135,"y":16.55},{"s":"B","x":140,"y":16.5},{"s":"B","x":145,"y":16.5},{"s":"B","x":150,"y":16.8},{"s":"B","x":155,"y":17.3},{"s":"B","x":160,"y":17.6},{"s":"B","x":165,"y":17.65},{"s":"B","x":170,"y":17.9},{"s":"B","x":175,"y":18.25},{"s":"B","x":180,"y":18.5},{"s":"B","x":185,"y":18.6},{"s":"B","x":190,"y":18.8},{"s":"B","x":195,"y":19.2},{"s":"B","x":200,"y":19.7},{"s":"B","x":205,"y":20.2},{"s":"B","x":210,"y":20.7},{"s":"B","x":215,"y":21.1},{"s":"B","x":220,"y":21.45},{"s":"B","x":225,"y":21.55},{"s":"B","x":230,"y":21.4},{"s":"B","x":235,"y":21.6},{"s":"B","x":240,"y":21.8},{"s":"B","x":245,"y":21.95},{"s":"B","x":250,"y":22.2},{"s":"B","x":260,"y":22.6},{"s":"B","x":267,"y":23.0},{"s":"B","x":274,"y":22.7},{"s":"B","x":281,"y":22.7},{"s":"B","x":288,"y":23.05},{"s":"B","x":295,"y":22.5},{"s":"B","x":302,"y":22.55},{"s":"B","x":309,"y":22.4},{"s":"B","x":316,"y":22.6},{"s":"B","x":323,"y":22.4},{"s":"B","x":328,"y":21.95},{"s":"B","x":333,"y":22.2},{"s":"B","x":340,"y":22.0},{"s":"B","x":347,"y":22.3},{"s":"B","x":354,"y":22.45},{"s":"B","x":361,"y":22.5},{"s":"B","x":368,"y":22.2},{"s":"B","x":375,"y":22.3},{"s":"B","x":380,"y":22.75},{"s":"B","x":386,"y":22.2},{"s":"B","x":393,"y":22.1},{"s":"B","x":400,"y":22.5},{"s":"B","x":407,"y":22.3},{"s":"B","x":414,"y":22.0},{"s":"B","x":419,"y":22.55},{"s":"B","x":424,"y":22.1},{"s":"B","x":429,"y":21.9},{"s":"B","x":436,"y":22.2},{"s":"B","x":443,"y":22.05},{"s":"B","x":450,"y":21.7},{"s":"B","x":457,"y":22.3},{"s":"B","x":464,"y":22.1},{"s":"B","x":471,"y":22.2},{"s":"B","x":478,"y":22.8},{"s":"B","x":484,"y":22.4},{"s":"B","x":489,"y":22.1},{"s":"B","x":495,"y":22.5}]},
"resolve":{"scale":{"color":"independent"},"legend":{"color":"independent"}},
"spacing":34,
"vconcat":[
{"hconcat":[
{"width":574,"height":286,"title":{"text":"0.5 Sv for 200 years","offset":-24},"resolve":{"axis":{"x":"independent"}},
"layer":[
{"data":{"values":[{"t0":0,"t1":200}]},"mark":{"type":"rect","color":"#808080","opacity":0.28},
"encoding":{"x":{"field":"t0","type":"quantitative","scale":{"domain":[-20,520],"nice":false,"zero":false},"axis":{"orient":"top","title":"(a)","labels":false,"ticks":false,"domain":false,"grid":false,"titleFontWeight":"bold","titleFontSize":20,"titleAlign":"left","titleBaseline":"alphabetic","titleX":7,"titleY":-14}},"x2":{"field":"t1"}}},
{"data":{"name":"a"},"mark":{"type":"line"},
"encoding":{"x":{"field":"x","type":"quantitative","scale":{"domain":[-20,520],"nice":false,"zero":false},"axis":{"orient":"bottom","title":"Year","values":[0,100,200,300,400,500],"grid":true,"titlePadding":3}},
"y":{"field":"y","type":"quantitative","scale":{"domain":[15,24],"nice":false,"zero":false},"axis":{"title":"Sv","values":[16,18,20,22,24],"grid":true,"titlePadding":5}},
"color":{"field":"s","type":"nominal","scale":{"domain":["W","D","R","A","B"],"range":["#1f77b4","#9467bd","#ff7f0e","#2ca02c","#d62728"]},
"legend":{"orient":"bottom-right","offset":9,"title":null,"symbolType":"M-1.6,0H1.6","symbolStrokeWidth":2,"symbolSize":300,"labelFontSize":14,"labelFont":"DejaVu Sans","labelColor":"#000","padding":6,"strokeColor":"#cccccc","fillColor":"#ffffff","cornerRadius":4,"rowPadding":3,"labelOffset":12,
"labelExpr":"datum.value=='W'?'Wilkes Land':datum.value=='D'?'Weddell Sea':datum.value=='R'?'Ross Sea':datum.value=='A'?'Amundsen Sea':'Bellingshausen Sea'"}}}}]},
{"width":574,"height":286,"title":{"text":"1.0 Sv for 100 years","offset":-24},"resolve":{"axis":{"x":"independent"}},
"layer":[
{"data":{"values":[{"t0":0,"t1":100}]},"mark":{"type":"rect","color":"#808080","opacity":0.28},
"encoding":{"x":{"field":"t0","type":"quantitative","scale":{"domain":[-20,520],"nice":false,"zero":false},"axis":{"orient":"top","title":"(b)","labels":false,"ticks":false,"domain":false,"grid":false,"titleFontWeight":"bold","titleFontSize":20,"titleAlign":"left","titleBaseline":"alphabetic","titleX":16,"titleY":-14}},"x2":{"field":"t1"}}},
{"data":{"name":"b"},"mark":{"type":"line"},
"encoding":{"x":{"field":"x","type":"quantitative","scale":{"domain":[-20,520],"nice":false,"zero":false},"axis":{"orient":"bottom","title":"Year","values":[0,100,200,300,400,500],"grid":true,"titlePadding":3}},
"y":{"field":"y","type":"quantitative","scale":{"domain":[15,24],"nice":false,"zero":false},"axis":{"title":"Sv","values":[16,18,20,22,24],"grid":true,"titlePadding":5}},
"color":{"field":"s","type":"nominal","scale":{"domain":["W","D","R","A","B"],"range":["#1f77b4","#9467bd","#ff7f0e","#2ca02c","#d62728"]},"legend":null}}}]}
],"spacing":24,"resolve":{"scale":{"color":"independent"},"legend":{"color":"independent"}}},
{"hconcat":[
{"width":574,"height":286,"title":{"text":"2.0 Sv for 50 years","offset":-24},"resolve":{"axis":{"x":"independent"}},
"layer":[
{"data":{"values":[{"t0":0,"t1":50}]},"mark":{"type":"rect","color":"#808080","opacity":0.28},
"encoding":{"x":{"field":"t0","type":"quantitative","scale":{"domain":[-20,520],"nice":false,"zero":false},"axis":{"orient":"top","title":"(c)","labels":false,"ticks":false,"domain":false,"grid":false,"titleFontWeight":"bold","titleFontSize":20,"titleAlign":"left","titleBaseline":"alphabetic","titleX":9,"titleY":-14}},"x2":{"field":"t1"}}},
{"data":{"name":"c"},"mark":{"type":"line"},
"encoding":{"x":{"field":"x","type":"quantitative","scale":{"domain":[-20,520],"nice":false,"zero":false},"axis":{"orient":"bottom","title":"Year","values":[0,100,200,300,400,500],"grid":true,"titlePadding":3}},
"y":{"field":"y","type":"quantitative","scale":{"domain":[15,24],"nice":false,"zero":false},"axis":{"title":"Sv","values":[16,18,20,22,24],"grid":true,"titlePadding":5}},
"color":{"field":"s","type":"nominal","scale":{"domain":["W","D","R","A","B"],"range":["#1f77b4","#9467bd","#ff7f0e","#2ca02c","#d62728"]},"legend":null}}}]},
{"width":574,"height":286,"title":{"text":"4.0 Sv for 25 years","offset":-24},"resolve":{"axis":{"x":"independent"}},
"layer":[
{"data":{"values":[{"t0":0,"t1":25}]},"mark":{"type":"rect","color":"#808080","opacity":0.28},
"encoding":{"x":{"field":"t0","type":"quantitative","scale":{"domain":[-20,520],"nice":false,"zero":false},"axis":{"orient":"top","title":"(d)","labels":false,"ticks":false,"domain":false,"grid":false,"titleFontWeight":"bold","titleFontSize":20,"titleAlign":"left","titleBaseline":"alphabetic","titleX":16,"titleY":-14}},"x2":{"field":"t1"}}},
{"data":{"name":"d"},"mark":{"type":"line"},
"encoding":{"x":{"field":"x","type":"quantitative","scale":{"domain":[-20,520],"nice":false,"zero":false},"axis":{"orient":"bottom","title":"Year","values":[0,100,200,300,400,500],"grid":true,"titlePadding":3}},
"y":{"field":"y","type":"quantitative","scale":{"domain":[15,24],"nice":false,"zero":false},"axis":{"title":"Sv","values":[16,18,20,22,24],"grid":true,"titlePadding":5}},
"color":{"field":"s","type":"nominal","scale":{"domain":["W","D","R","A","B"],"range":["#1f77b4","#9467bd","#ff7f0e","#2ca02c","#d62728"]},"legend":null}}}]}
],"spacing":24,"resolve":{"scale":{"color":"independent"},"legend":{"color":"independent"}}}
]}
